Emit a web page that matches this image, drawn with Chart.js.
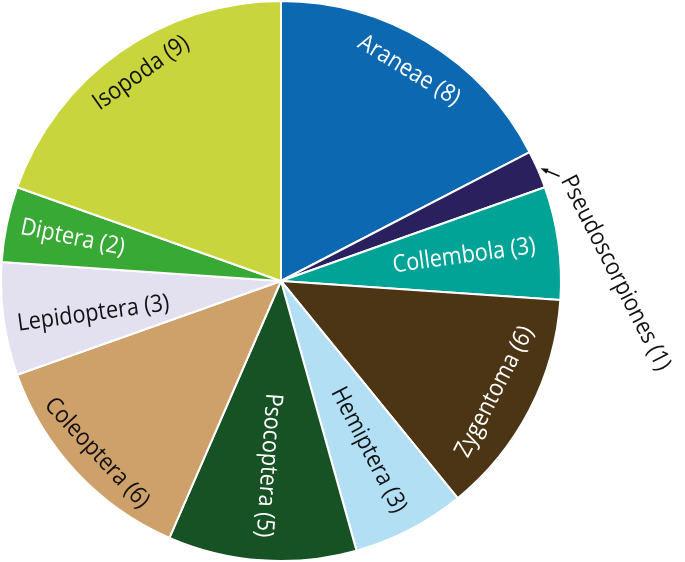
<!DOCTYPE html>
<html>
<head>
<meta charset="utf-8">
<script src="https://cdn.jsdelivr.net/npm/chart.js@4"></script>
<style>
  html, body { margin: 0; padding: 0; background: #ffffff; }
  canvas { display: block; }
</style>
</head>
<body>
<canvas id="c" width="685" height="562"></canvas>
<script>
// ---- data ----
const categories = ["Araneae", "Pseudoscorpiones", "Collembola", "Zygentoma", "Hemiptera",
                    "Psocoptera", "Coleoptera", "Lepidoptera", "Diptera", "Isopoda"];
const counts = [8, 1, 3, 6, 3, 5, 6, 3, 2, 9];

// ---- styles ----
const sliceColors = ["#0b68b1", "#2a205e", "#00a396", "#4b3514", "#b2dff3",
                     "#175224", "#cea16b", "#e3e0f0", "#38a935", "#c9d53d"];
const labelColors = ["#ffffff", "#111111", "#ffffff", "#ffffff", "#111111",
                     "#ffffff", "#111111", "#111111", "#ffffff", "#111111"];
// label layout: radial fraction, angular nudge (deg) and orientation ('t' tangential, 'r' radial, 'o' outside)
const labelRadius = [0.88, 1.0, 0.66, 0.86, 0.68, 0.66, 0.90, 0.68, 0.76, 0.895];
const labelNudge  = [0, 0, 0, 0, 0, 0, 0, -2, 0, 1.3];
const labelMode   = ["t", "o", "r", "t", "r", "r", "t", "r", "r", "t"];
const FONT = '24px "Open Sans", "Noto Sans", sans-serif';
const XSCALE = 0.9;

function norm(deg) {
  while (deg > 95) deg -= 180;
  while (deg <= -85) deg += 180;
  return deg;
}

const labelPlugin = {
  id: 'sliceLabels',
  afterDatasetsDraw(chart) {
    const ctx = chart.ctx;
    const meta = chart.getDatasetMeta(0);
    ctx.save();
    ctx.font = FONT;
    ctx.textAlign = 'center';
    ctx.textBaseline = 'middle';
    meta.data.forEach((arc, i) => {
      const p = arc.getProps(['x', 'y', 'startAngle', 'endAngle', 'outerRadius'], true);
      const mid = (p.startAngle + p.endAngle) / 2;
      const text = categories[i] + ' (' + counts[i] + ')';
      const thetaTop = mid * 180 / Math.PI + 90; // degrees clockwise from top
      if (labelMode[i] === 'o') {
        // outside label with arrow
        const ex = p.x + Math.cos(mid) * (p.outerRadius + 3);
        const ey = p.y + Math.sin(mid) * (p.outerRadius + 3);
        const ax = ex + 19, ay = ey + 8;
        ctx.strokeStyle = '#111';
        ctx.fillStyle = '#111';
        ctx.lineWidth = 1.5;
        ctx.beginPath();
        ctx.moveTo(ax, ay);
        ctx.lineTo(ex + 4, ey + 1.7);
        ctx.stroke();
        const ang = Math.atan2(ay - ey, ax - ex);
        ctx.beginPath();
        ctx.moveTo(ex, ey);
        ctx.lineTo(ex + 8 * Math.cos(ang + 0.35), ey + 8 * Math.sin(ang + 0.35));
        ctx.lineTo(ex + 8 * Math.cos(ang - 0.35), ey + 8 * Math.sin(ang - 0.35));
        ctx.closePath();
        ctx.fill();
        ctx.save();
        ctx.translate(ax + 7, ay + 1);
        ctx.rotate(63 * Math.PI / 180);
        ctx.scale(XSCALE, 1);
        ctx.textAlign = 'left';
        ctx.fillText(text, 0, 0);
        ctx.restore();
        return;
      }
      const a = mid + labelNudge[i] * Math.PI / 180;
      const r = p.outerRadius * labelRadius[i];
      const tx = p.x + Math.cos(a) * r;
      const ty = p.y + Math.sin(a) * r;
      let rot = labelMode[i] === 't' ? thetaTop : thetaTop - 90;
      rot = norm(rot);
      ctx.save();
      ctx.translate(tx, ty);
      ctx.rotate(rot * Math.PI / 180);
      ctx.scale(XSCALE, 1);
      ctx.fillStyle = labelColors[i];
      ctx.fillText(text, 0, 0);
      ctx.restore();
    });
    ctx.restore();
  }
};

new Chart(document.getElementById('c'), {
  type: 'pie',
  data: {
    labels: categories,
    datasets: [{
      data: counts,
      backgroundColor: sliceColors,
      borderColor: '#ffffff',
      borderWidth: 2
    }]
  },
  options: {
    responsive: false,
    animation: false,
    layout: { padding: { left: 0, right: 123, top: 0, bottom: 0 } },
    plugins: { legend: { display: false }, tooltip: { enabled: false } }
  },
  plugins: [labelPlugin]
});
</script>
</body>
</html>
